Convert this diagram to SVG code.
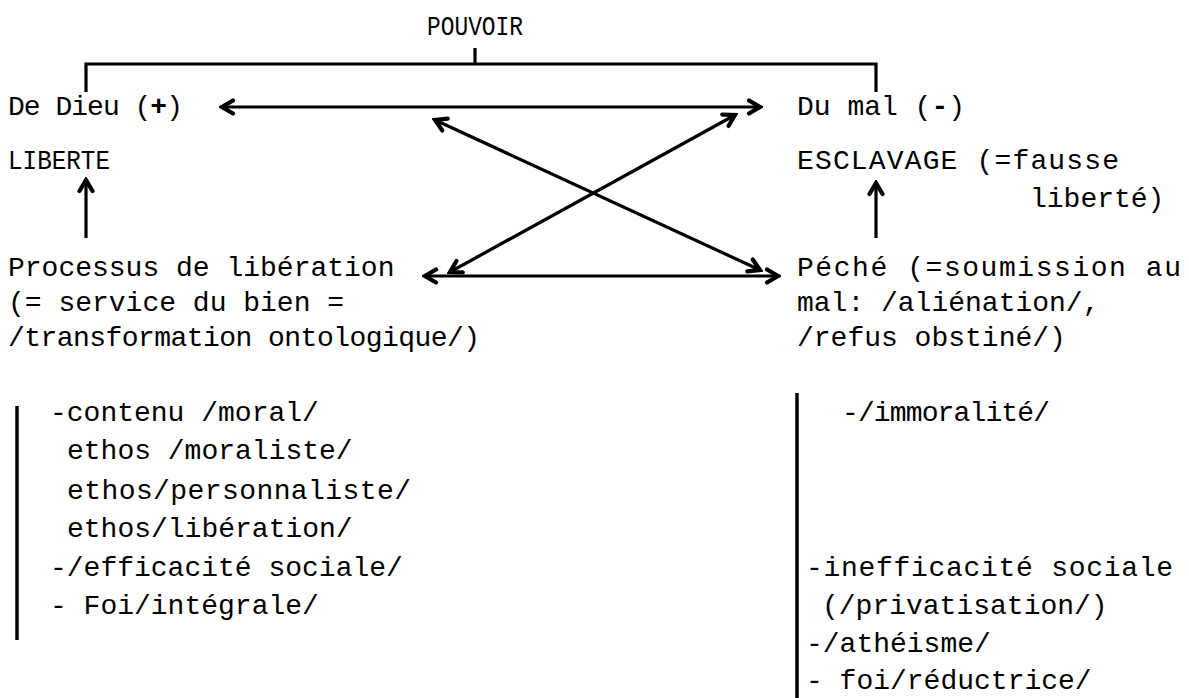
<svg xmlns="http://www.w3.org/2000/svg" width="1189" height="698" viewBox="0 0 1189 698">
  <style>
    text { font-family: "Liberation Mono", "DejaVu Sans Mono", monospace; font-size: 28px; fill: #000; }
    .b { font-weight: bold; }
    .ln { fill: none; stroke: #000; stroke-width: 3.2; }
    .bar { fill: none; stroke: #000; stroke-width: 3.5; }
  </style>
  <defs>
    <marker id="head" viewBox="0 0 18 18" refX="15" refY="9" markerWidth="18" markerHeight="18" markerUnits="userSpaceOnUse" orient="auto-start-reverse">
      <path d="M4,2.5 L15,9 L4,15.5" fill="none" stroke="#000" stroke-width="4.2" stroke-linejoin="miter" stroke-linecap="round"/>
    </marker>
  </defs>

  <rect width="1189" height="698" fill="#fff"/>

  <g id="pouvoir">
    <text x="427" y="35" textLength="96" lengthAdjust="spacingAndGlyphs">POUVOIR</text>
  </g>

  <g id="de-dieu">
    <text x="8" y="115" textLength="175" lengthAdjust="spacing">De Dieu (<tspan class="b">+</tspan>)</text>
  </g>

  <g id="du-mal">
    <text x="797" y="115">Du mal (<tspan class="b">-</tspan>)</text>
  </g>

  <g id="liberte">
    <text x="8" y="169" textLength="102" lengthAdjust="spacingAndGlyphs">LIBERTE</text>
  </g>

  <g id="esclavage">
    <text x="797" y="169" textLength="322" lengthAdjust="spacing">ESCLAVAGE (=fausse</text>
    <text x="1030" y="207">liberté)</text>
  </g>

  <g id="processus">
    <text x="8" y="276">Processus de libération</text>
    <text x="8" y="311">(= service du bien =</text>
    <text x="8" y="346" textLength="472" lengthAdjust="spacing">/transformation ontologique/)</text>
  </g>

  <g id="peche">
    <text x="797" y="276" textLength="384" lengthAdjust="spacing">Péché (=soumission au</text>
    <text x="797" y="311">mal: /aliénation/,</text>
    <text x="797" y="346">/refus obstiné/)</text>
  </g>

  <g id="liste-liberation">
    <path class="bar" d="M17,406 V640"/>
    <text x="50" y="421">-contenu /moral/</text>
    <text x="67" y="459">ethos /moraliste/</text>
    <text x="67" y="499" textLength="344" lengthAdjust="spacing">ethos/personnaliste/</text>
    <text x="67" y="537">ethos/libération/</text>
    <text x="50" y="576">-/efficacité sociale/</text>
    <text x="50" y="614">- Foi/intégrale/</text>
  </g>

  <g id="liste-peche">
    <path class="bar" d="M797,393 V698"/>
    <text x="842" y="421" textLength="208" lengthAdjust="spacing">-/immoralité/</text>
    <text x="806" y="576" textLength="367" lengthAdjust="spacing">-inefficacité sociale</text>
    <text x="822" y="614">(/privatisation/)</text>
    <text x="806" y="652">-/athéisme/</text>
    <text x="806" y="689">- foi/réductrice/</text>
  </g>

  <g id="connectors">
    <!-- bracket joining POUVOIR to both poles -->
    <path class="ln" d="M86,92 V64 H876 V92"/>
    <path class="ln" d="M475,48 V64"/>
    <!-- horizontal oppositions -->
    <path class="ln" d="M222,107 H760" marker-start="url(#head)" marker-end="url(#head)"/>
    <path class="ln" d="M425,276 H778" marker-start="url(#head)" marker-end="url(#head)"/>
    <!-- crossed relations -->
    <path class="ln" d="M435,120 L760,270" marker-start="url(#head)" marker-end="url(#head)"/>
    <path class="ln" d="M450,272 L735,115" marker-start="url(#head)" marker-end="url(#head)"/>
    <!-- upward results -->
    <path class="ln" d="M86,238 V180" marker-end="url(#head)"/>
    <path class="ln" d="M876,238 V183" marker-end="url(#head)"/>
  </g>
</svg>
